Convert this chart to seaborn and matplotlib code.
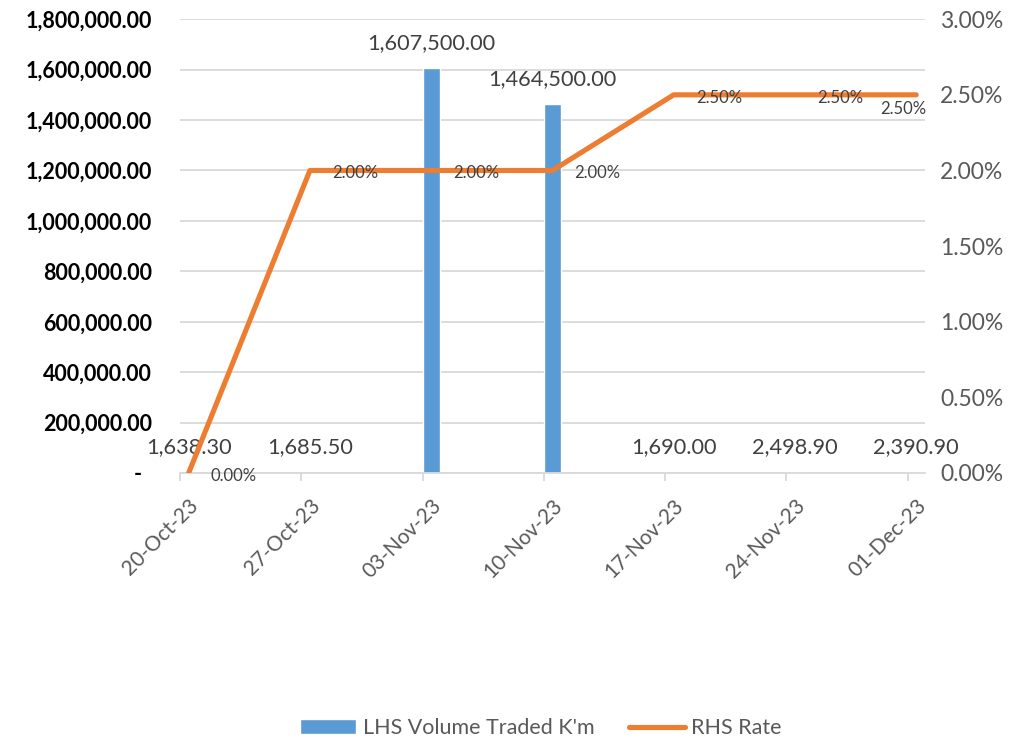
import matplotlib
matplotlib.use("Agg")
import matplotlib.pyplot as plt
import matplotlib.ticker as mticker
import matplotlib.transforms as mtransforms
import seaborn as sns
import numpy as np
import pandas as pd

# data
dates = ['20-Oct-23', '27-Oct-23', '03-Nov-23', '10-Nov-23', '17-Nov-23', '24-Nov-23', '01-Dec-23']
day_offsets = [0, 7, 14, 21, 28, 35, 42]          # days since 20-Oct-23
volume = [1638.30, 1685.50, 1607500.00, 1464500.00, 1690.00, 2498.90, 2390.90]
rate = [0.00, 2.00, 2.00, 2.00, 2.50, 2.50, 2.50]  # percent

BLUE = '#5B9BD5'
ORANGE = '#ED7D31'
GRID = '#D9D9D9'
TXT = '#595959'
LBL = '#404040'

sns.set_theme(style='white')
plt.rcParams['font.family'] = ['Lato', 'DejaVu Sans']

# bars and points sit in the middle of each day's slot (date axis)
df = pd.DataFrame({'x': np.array(day_offsets) + 0.5, 'volume': volume, 'rate': rate})

fig, ax = plt.subplots(figsize=(10.13, 7.39), dpi=100)
fig.subplots_adjust(left=0.1777, right=0.913, top=0.974, bottom=0.36)

sns.barplot(data=df, x='x', y='volume', native_scale=True, width=1 / 7,
            color=BLUE, saturation=1, ax=ax, label="LHS Volume Traded K'm")
if ax.get_legend() is not None:
    ax.get_legend().remove()
ax.set_xlim(0, 43)
ax.set_ylim(0, 1800000)
ax.set_yticks(np.arange(0, 1800001, 200000))
ax.yaxis.set_major_formatter(mticker.FuncFormatter(
    lambda v, p: '-  ' if v == 0 else f'{v:,.2f}'))
ax.tick_params(axis='y', length=0, pad=20, labelsize=15.5, labelcolor='black')
for t in ax.get_yticklabels():
    t.set_fontweight('bold')
ax.grid(axis='y', color=GRID, lw=1.3)
ax.set_axisbelow(True)

ax.set_xticks(day_offsets)
ax.set_xticklabels(dates, rotation=45, ha='right', rotation_mode='anchor',
                   fontsize=15, color=TXT)
ax.tick_params(axis='x', length=6, width=1.3, color=GRID, pad=6, bottom=True)
shift = mtransforms.ScaledTranslation(6 / 72, -4 / 72, fig.dpi_scale_trans)
for t in ax.get_xticklabels():
    t.set_transform(t.get_transform() + shift)
ax.set_xlabel('')
ax.set_ylabel('')
for s in ['top', 'left', 'right']:
    ax.spines[s].set_visible(False)
ax.spines['bottom'].set_color(GRID)
ax.spines['bottom'].set_linewidth(1.3)

for xv, v in zip(df['x'], volume):
    ax.annotate(f'{v:,.2f}', (xv, v), xytext=(0, 18), textcoords='offset points',
                ha='center', va='center', fontsize=15.7, color=LBL)

ax2 = ax.twinx()
sns.lineplot(data=df, x='x', y='rate', color=ORANGE, lw=3.7, ax=ax2,
             solid_capstyle='round', label='RHS Rate', legend=False)
ax2.set_ylim(0, 3)
ax2.set_yticks(np.arange(0, 3.01, 0.5))
ax2.yaxis.set_major_formatter(mticker.FuncFormatter(lambda v, p: f'{v:.2f}%'))
ax2.tick_params(axis='y', length=0, pad=11, labelsize=16.5, labelcolor=TXT)
ax2.set_ylabel('')
ax2.set_xlabel('')
for s in ax2.spines.values():
    s.set_visible(False)

for i, (xv, r) in enumerate(zip(df['x'], rate)):
    if i == len(rate) - 1:
        ax2.annotate(f'{r:.2f}%', (xv, r), xytext=(7, -10), textcoords='offset points',
                     ha='right', va='center', fontsize=12, color=LBL)
    else:
        ax2.annotate(f'{r:.2f}%', (xv, r), xytext=(16, -2), textcoords='offset points',
                     ha='left', va='center', fontsize=12, color=LBL)

h1, l1 = ax.get_legend_handles_labels()
h2, l2 = ax2.get_legend_handles_labels()
leg = fig.legend(h1 + h2, l1 + l2, loc='lower center', bbox_to_anchor=(0.534, -0.025),
                 ncol=2, frameon=False, fontsize=15.5, handlelength=2.6,
                 columnspacing=1.6, handletextpad=0.3)
for t in leg.get_texts():
    t.set_color(TXT)

fig.savefig('out.png', dpi=100)
